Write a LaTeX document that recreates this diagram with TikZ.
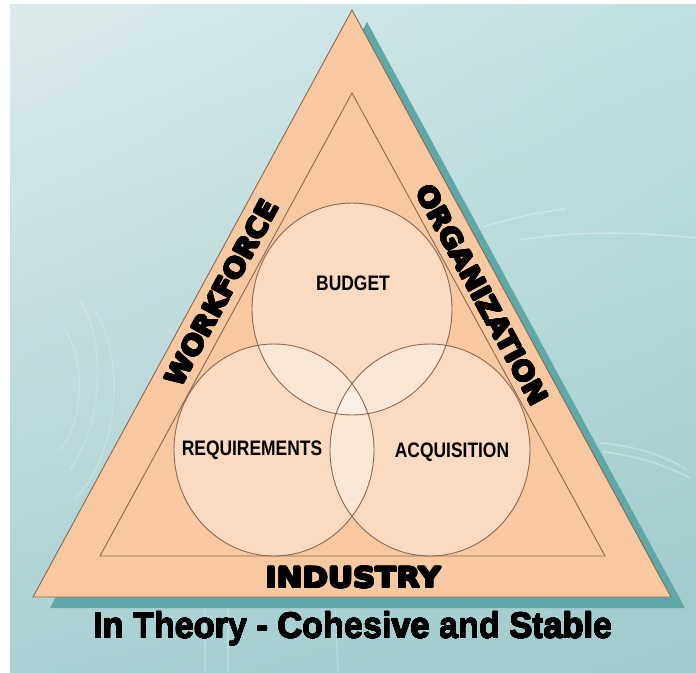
\documentclass[tikz,border=0pt]{standalone}
\usepackage{fontspec}
\usepackage{contour}
\contournumber{16}
\setmainfont{Liberation Sans}
\newfontfamily\heavyfont{DejaVu Sans}
\usetikzlibrary{calc,shadings}
\definecolor{peach}{HTML}{F8C9A0}
\definecolor{edgebrown}{HTML}{8A6752}
\definecolor{shadowteal}{HTML}{5EA8A8}
\definecolor{bgUL}{HTML}{DCEAEB}
\definecolor{bgUR}{HTML}{BFE1E1}
\definecolor{bgLL}{HTML}{A9D1D3}
\definecolor{bgLR}{HTML}{9FCACB}
\newcommand\heavytext[2]{\contourlength{#1}\contour{black}{#2}}
\tikzset{
  outline/.style={draw=edgebrown, line width=0.9pt},
  sidelabel/.style={font=\heavyfont\bfseries\fontsize{27}{27}\selectfont, inner sep=0pt},
  circlabel/.style={font=\bfseries\fontsize{21}{21}\selectfont, inner sep=0pt, xscale=0.83},
  faint/.style={draw=white, opacity=0.3, line width=1.5pt}
}
\begin{document}
\begin{tikzpicture}[x=1pt,y=-1pt]
\useasboundingbox (0,0) rectangle (696,672);
% background
\fill[white] (0,0) rectangle (696,672);
\shade[upper left=bgUL, upper right=bgUR, lower left=bgLL, lower right=bgLR] (10,4) rectangle (696,672);
% faint decorative arcs
\draw[faint] (483,227) .. controls (515,217) and (545,211) .. (566,209);
\draw[faint] (520,240) .. controls (580,230) and (640,232) .. (696,238);
\draw[faint] (600,443) .. controls (630,445) and (665,455) .. (687,470);
\draw[faint] (603,452) .. controls (630,455) and (660,462) .. (690,478);
\draw[faint, opacity=0.2] (80,300) .. controls (105,340) and (105,420) .. (70,470);
\draw[faint, opacity=0.2] (95,310) .. controls (125,360) and (120,450) .. (75,500);
\draw[faint, opacity=0.2] (65,330) .. controls (85,360) and (85,420) .. (60,450);
\draw[faint, opacity=0.2] (205,600) -- (205,672);
\draw[faint, opacity=0.2] (228,600) -- (228,672);
\draw[faint, opacity=0.2] (335,600) -- (338,672);
% shadow
\fill[shadowteal] (367,22) -- (685,608) -- (50,608) -- cycle;
% outer triangle
\coordinate (A) at (352,10);
\coordinate (B) at (33,597);
\coordinate (C) at (671,597);
\filldraw[fill=peach, outline] (A) -- (C) -- (B) -- cycle;
% inner triangle
\coordinate (a) at (352,93);
\coordinate (b) at (100,556);
\coordinate (c) at (605,556);
\draw[outline] (a) -- (c) -- (b) -- cycle;
% circles
\coordinate (cb) at (352,309);
\coordinate (cr) at (274,450);
\coordinate (ca) at (430,450);
\foreach \p in {cb,cr,ca}
  \fill[white, fill opacity=0.35] (\p) ellipse [x radius=100, y radius=106];
\foreach \p in {cb,cr,ca}
  \draw[outline] (\p) ellipse [x radius=100, y radius=106];
% circle labels
\node[circlabel] (budget) at (353,283) {BUDGET};
\node[circlabel] (req) at (252,450) {REQUIREMENTS};
\node[circlabel] (acq) at (452,452) {ACQUISITION};
% side labels
\node[sidelabel, rotate=61.5, xscale=1.06] (wf) at (222,293) {\heavytext{0.9pt}{WORKFORCE}};
\node[sidelabel, rotate=-61.5, xscale=1.06] (org) at (482,295) {\heavytext{0.9pt}{ORGANIZATION}};
\node[sidelabel, font=\heavyfont\bfseries\fontsize{28}{28}\selectfont, xscale=1.1] (ind) at (353,578) {\heavytext{0.9pt}{INDUSTRY}};
% caption
\node[anchor=base, inner sep=0pt, xscale=0.95, font=\bfseries\fontsize{36}{36}\selectfont] (cap) at (353,638) {\heavytext{0.3pt}{In Theory - Cohesive and Stable}};
\end{tikzpicture}
\end{document}
